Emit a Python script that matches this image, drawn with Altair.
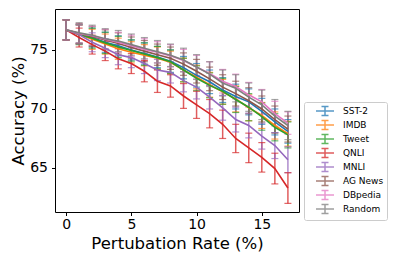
import altair as alt
import pandas as pd

rates = list(range(18))
series = ["SST-2", "IMDB", "Tweet", "QNLI", "MNLI", "AG News", "DBpedia", "Random"]
colors = ["#1f77b4", "#ff7f0e", "#2ca02c", "#d62728", "#9467bd", "#8c564b", "#e377c2", "#7f7f7f"]

acc_sst2 = [76.7, 76.35, 76.05, 75.65, 75.35, 75.0, 74.7, 74.4, 74.05, 73.5, 72.85, 72.3, 71.6, 71.05, 70.6, 69.8, 68.9, 68.1]
acc_imdb = [76.7, 76.3, 75.9, 75.5, 75.1, 74.8, 74.55, 74.3, 73.95, 73.3, 72.7, 72.05, 71.45, 70.85, 70.1, 69.45, 68.6, 67.9]
acc_tweet = [76.7, 76.3, 76.0, 75.6, 75.25, 74.95, 74.65, 74.35, 74.0, 73.3, 72.6, 72.0, 71.5, 70.8, 70.15, 69.35, 68.45, 67.8]
acc_qnli = [76.7, 76.05, 75.45, 74.9, 74.25, 73.85, 73.2, 72.35, 71.95, 71.1, 70.35, 69.6, 68.7, 67.5, 66.7, 65.9, 64.95, 63.3]
acc_mnli = [76.7, 76.3, 75.65, 75.15, 74.6, 74.35, 73.85, 73.3, 73.1, 72.4, 71.85, 71.0, 70.1, 69.1, 68.6, 67.7, 66.9, 65.7]
acc_ag = [76.7, 76.4, 76.15, 75.85, 75.55, 75.2, 74.9, 74.6, 74.3, 73.8, 73.2, 72.55, 71.85, 71.3, 70.7, 70.0, 69.1, 68.3]
acc_db = [76.7, 76.4, 76.2, 75.9, 75.65, 75.35, 75.05, 74.8, 74.5, 74.1, 73.55, 73.0, 72.35, 71.9, 71.2, 70.6, 69.6, 68.8]
acc_rand = [76.7, 76.45, 76.25, 75.95, 75.75, 75.45, 75.15, 74.85, 74.55, 74.15, 73.55, 72.95, 72.2, 71.75, 71.0, 70.35, 69.4, 68.6]

err_sst2 = [0.85, 0.8, 0.8, 0.85, 0.85, 0.85, 0.9, 0.9, 0.95, 0.95, 1.0, 1.0, 1.05, 1.05, 1.1, 1.1, 1.1, 1.0]
err_imdb = [0.85, 0.8, 0.85, 0.85, 0.9, 0.9, 0.9, 0.95, 0.95, 1.0, 1.0, 1.05, 1.05, 1.1, 1.1, 1.1, 1.15, 1.05]
err_tweet = [0.85, 0.85, 0.85, 0.9, 0.9, 0.9, 0.95, 0.95, 1.0, 1.0, 1.05, 1.05, 1.1, 1.1, 1.15, 1.15, 1.15, 1.1]
err_qnli = [0.85, 0.8, 0.8, 0.8, 0.85, 0.85, 0.9, 0.95, 0.95, 1.05, 1.15, 1.2, 1.2, 1.2, 1.25, 1.25, 1.3, 1.3]
err_mnli = [0.85, 0.8, 0.8, 0.8, 0.85, 0.85, 0.85, 0.9, 0.9, 0.95, 1.0, 1.0, 1.05, 1.05, 1.05, 1.1, 1.1, 1.1]
err_ag = [0.85, 0.85, 0.85, 0.85, 0.9, 0.9, 0.9, 0.9, 0.95, 0.95, 1.0, 1.0, 1.05, 1.05, 1.1, 1.1, 1.15, 1.1]
err_db = [0.85, 0.8, 0.8, 0.85, 0.85, 0.9, 0.9, 0.9, 0.95, 0.95, 1.0, 1.0, 1.0, 1.05, 1.05, 1.05, 1.05, 0.95]
err_rand = [0.85, 0.85, 0.85, 0.85, 0.9, 0.9, 0.9, 0.95, 0.95, 1.0, 1.05, 1.05, 1.1, 1.15, 1.2, 1.25, 1.4, 1.2]

all_acc = [acc_sst2, acc_imdb, acc_tweet, acc_qnli, acc_mnli, acc_ag, acc_db, acc_rand]
all_err = [err_sst2, err_imdb, err_tweet, err_qnli, err_mnli, err_ag, err_db, err_rand]

rows = []
for idx, (name, vals, errs) in enumerate(zip(series, all_acc, all_err)):
    for r, v, e in zip(rates, vals, errs):
        rows.append({"series": name, "rate": r, "acc": v, "err": e, "order": idx})
df = pd.DataFrame(rows)

xscale = alt.Scale(domain=[-0.85, 17.85], nice=False, zero=False)
yscale = alt.Scale(domain=[61.27, 78.47], nice=False, zero=False)
xaxis = alt.Axis(values=[0, 5, 10, 15], title="Pertubation Rate (%)")
yaxis = alt.Axis(values=[65, 70, 75], title="Accuracy (%)")
cscale = alt.Scale(domain=series, range=colors)

legend = alt.Legend(
    title=None,
    orient="none",
    legendX=249,
    legendY=93,
    symbolType="M-1.8,0H1.8M0,-0.9V0.9M-0.7,-0.9H0.7M-0.7,0.9H0.7",
    symbolSize=100,
    symbolStrokeWidth=1.5,
    symbolFillColor="transparent",
    symbolOffset=12,
    labelOffset=12,
    labelFont="DejaVu Sans",
    labelFontSize=9,
    labelColor="black",
    rowPadding=-3.7,
    padding=3,
    strokeColor="#cccccc",
    fillColor="white",
    cornerRadius=2,
)

color = alt.Color("series:N", scale=cscale, legend=legend, sort=series)

base = alt.Chart(df).transform_calculate(
    lo="datum.acc - datum.err", hi="datum.acc + datum.err"
)

rules = base.mark_rule(strokeWidth=1.5, opacity=0.75, clip=True).encode(
    x=alt.X("rate:Q", scale=xscale, axis=xaxis),
    y=alt.Y("lo:Q", scale=yscale, axis=yaxis),
    y2="hi:Q",
    color=color,
    order="order:Q",
)
caps_lo = base.mark_tick(orient="horizontal", size=7, thickness=1.2, opacity=0.7, clip=True).encode(
    x=alt.X("rate:Q", scale=xscale, axis=xaxis),
    y=alt.Y("lo:Q", scale=yscale, axis=yaxis),
    color=color,
    order="order:Q",
)
caps_hi = base.mark_tick(orient="horizontal", size=7, thickness=1.2, opacity=0.7, clip=True).encode(
    x=alt.X("rate:Q", scale=xscale, axis=xaxis),
    y=alt.Y("hi:Q", scale=yscale, axis=yaxis),
    color=color,
    order="order:Q",
)
lines = base.mark_line(strokeWidth=1.6, clip=True).encode(
    x=alt.X("rate:Q", scale=xscale, axis=xaxis),
    y=alt.Y("acc:Q", scale=yscale, axis=yaxis),
    color=color,
    order="rate:Q",
)

chart = alt.layer(rules, caps_lo, caps_hi, lines).properties(
    width=244,
    height=203,
    autosize=alt.AutoSizeParams(type="none"),
    padding={"left": 47, "top": 1, "right": 92, "bottom": 46},
).configure_view(
    stroke="black", strokeWidth=1
).configure_axis(
    grid=False,
    domain=False,
    labelFont="DejaVu Sans",
    labelFontSize=14,
    labelColor="black",
    titleFont="DejaVu Sans",
    titleFontSize=16.5,
    titleFontWeight="normal",
    titleColor="black",
    tickColor="black",
    tickSize=3.5,
    tickWidth=1,
).configure_axisX(
    labelPadding=2, titlePadding=4
).configure_axisY(
    labelPadding=4, titlePadding=3
)

chart.save("out.html", embed_options={"renderer": "svg", "actions": False})
